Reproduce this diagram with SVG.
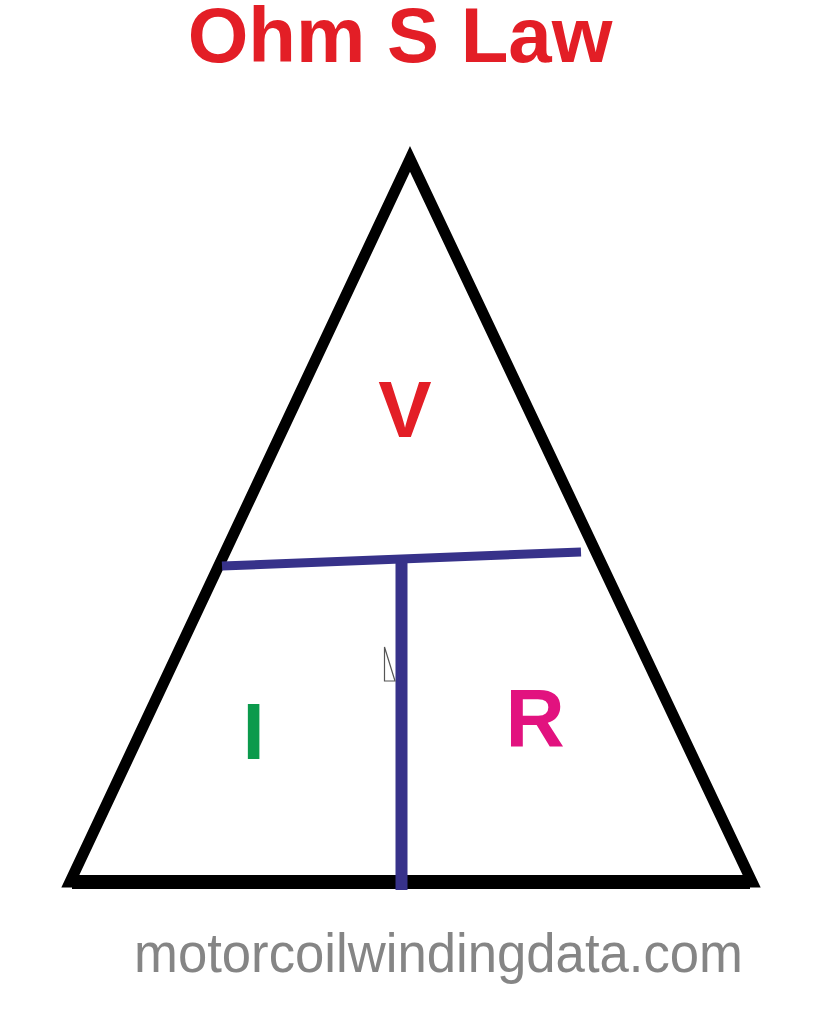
<svg xmlns="http://www.w3.org/2000/svg" width="823" height="1024" viewBox="0 0 823 1024">
  <style>
    .bold { font-family: "Liberation Sans", Arial, sans-serif; font-weight: bold; }
    .div { stroke: #37328a; fill: none; stroke-linecap: butt; }
  </style>
  <rect x="0" y="0" width="823" height="1024" fill="#ffffff"/>
  <g id="title">
    <text class="bold" x="400" y="62" font-size="78" fill="#e31e26" text-anchor="middle">Ohm S Law</text>
  </g>
  <g id="triangle">
    <polygon points="410,159 70,882 752,882" fill="#ffffff" stroke="#000000" stroke-width="11" stroke-linejoin="miter" stroke-miterlimit="10"/>
    <line x1="72" y1="882" x2="750" y2="882" stroke="#000000" stroke-width="14"/>
  </g>
  <g id="connectors">
    <line class="div" x1="222" y1="566" x2="581" y2="552" stroke-width="9"/>
    <line class="div" x1="401.5" y1="558" x2="401.5" y2="890" stroke-width="12"/>
  </g>
  <g id="cursor">
    <polygon points="384.5,647 384.5,681 395,681" fill="#ffffff" stroke="#555555" stroke-width="1.2"/>
  </g>
  <g id="node-V">
    <text class="bold" x="405" y="437" font-size="80" fill="#e31e26" text-anchor="middle">V</text>
  </g>
  <g id="node-I">
    <text class="bold" x="253.5" y="759" font-size="80" fill="#0b9a4c" text-anchor="middle">I</text>
  </g>
  <g id="node-R">
    <text class="bold" x="535" y="746" font-size="82" fill="#e2127f" text-anchor="middle">R</text>
  </g>
  <g id="website">
    <text x="134" y="972" font-family="'Liberation Sans', Arial, sans-serif" font-size="56" fill="#858585" textLength="609" lengthAdjust="spacingAndGlyphs">motorcoilwindingdata.com</text>
  </g>
</svg>
